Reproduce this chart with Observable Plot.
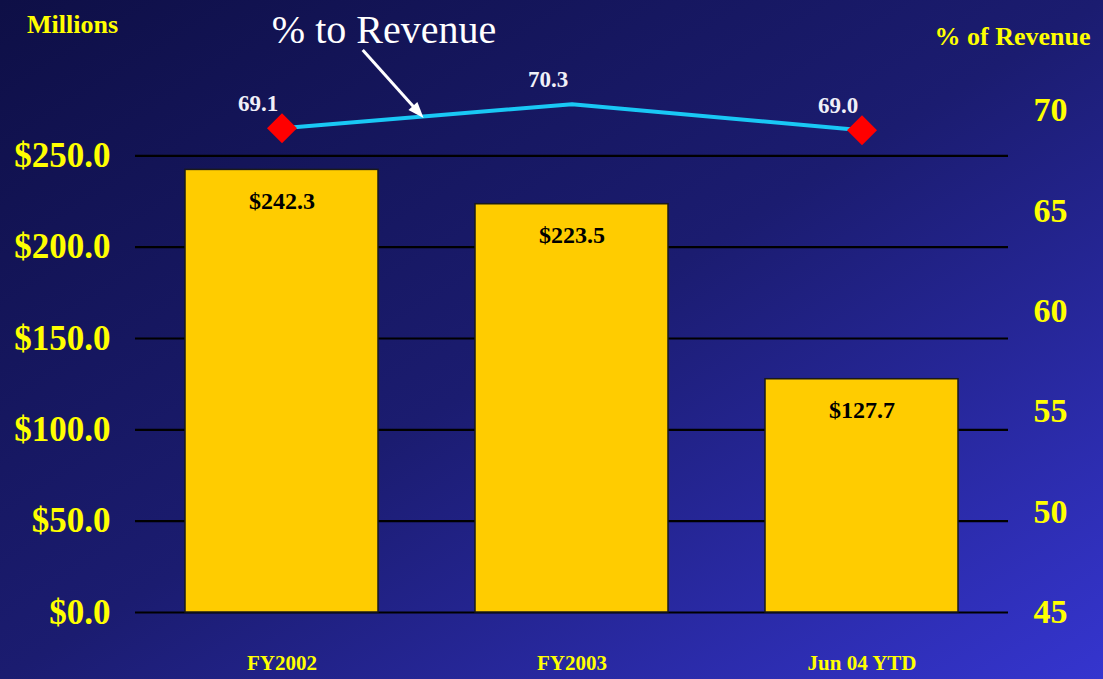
<!DOCTYPE html>
<html><head><meta charset="utf-8">
<script src="https://cdn.jsdelivr.net/npm/d3@7"></script>
<script src="https://cdn.jsdelivr.net/npm/@observablehq/plot@0.6"></script>
<style>
html,body{margin:0;padding:0;width:1103px;height:679px;overflow:hidden;
background: linear-gradient(to bottom right, #0e0f46 0%, #1b1c70 50%, #3535cf 100%);}
#chart svg{display:block;}
</style></head><body><div id="chart"></div>
<script>
const categories = ["FY2002", "FY2003", "Jun 04 YTD"];
const expenses = [242.3, 223.5, 127.7];
const pctRevenue = [69.1, 70.3, 69.0];
const pctMarker = [true, false, true];
const leftTicks = [0, 50, 100, 150, 200, 250];
const rightTicks = [45, 50, 55, 60, 65, 70];
const annotationText = "% to Revenue";
const leftTitle = "Millions";
const rightTitle = "% of Revenue";

// map the right (percent) axis onto the left axis coordinates
const PCT_BASE = 45, PCT_K = 11;
const toLeft = p => (p - PCT_BASE) * PCT_K;

const rows = categories.map((c, i) => ({
  category: c, value: expenses[i], pct: pctRevenue[i],
  marker: pctMarker[i], pctY: toLeft(pctRevenue[i])
}));

const serif = "'Liberation Serif','Times New Roman',Times,serif";
const yellow = "#ffff00";

const plot = Plot.plot({
  width: 1103, height: 679,
  marginLeft: 135, marginRight: 95, marginTop: 64, marginBottom: 67,
  style: {background: "transparent", fontFamily: serif, overflow: "visible"},
  x: {domain: categories, paddingInner: 0.336, paddingOuter: 0.17, label: null},
  y: {domain: [0, 300], label: null},
  marks: [
    Plot.gridY(leftTicks, {stroke: "#000", strokeOpacity: 1, strokeWidth: 2.2}),
    Plot.barY(rows, {x: "category", y: "value", fill: "#ffcc00", stroke: "#1a1a1a", strokeWidth: 1.5}),
    Plot.text(rows, {x: "category", y: "value", text: d => "$" + d.value.toFixed(1), dy: 31,
      fill: "#000", fontSize: 24, fontWeight: "bold"}),
    Plot.axisY(leftTicks, {anchor: "left", tickSize: 0, tickPadding: 25,
      tickFormat: d => "$" + d.toFixed(1), fill: yellow, fontSize: 35, fontWeight: "bold", label: null}),
    Plot.axisY(rightTicks.map(toLeft), {anchor: "right", tickSize: 0, tickPadding: 25,
      tickFormat: d => String(Math.round(d / PCT_K + PCT_BASE)), fill: yellow, fontSize: 34, fontWeight: "bold", label: null}),
    Plot.axisX({tickSize: 0, tickPadding: 43, fill: yellow, fontSize: 21, fontWeight: "bold", label: null}),
    Plot.line(rows, {x: "category", y: "pctY", stroke: "#19c8f5", strokeWidth: 4}),
    Plot.dot(rows.filter(d => d.marker), {x: "category", y: "pctY", symbol: "diamond2", r: 13.5, fill: "#ff0000", stroke: "none"}),
    Plot.text(rows, {x: "category", y: "pctY", text: d => d.pct.toFixed(1), dx: -24, dy: -25,
      fill: "#f0f0f8", fontSize: 23, fontWeight: "bold"}),
    Plot.text([leftTitle], {frameAnchor: "top-left", dx: -63, dy: -50, textAnchor: "middle",
      fill: yellow, fontSize: 26, fontWeight: "bold"}),
    Plot.text([rightTitle], {frameAnchor: "top-right", dx: 4, dy: -38, textAnchor: "middle",
      fill: yellow, fontSize: 26, fontWeight: "bold"}),
    Plot.text([annotationText], {x: () => categories[0], frameAnchor: "top", dx: 102, dy: -50,
      fill: "#ffffff", fontSize: 40, fontWeight: "normal"})
  ]
});

// arrow from the annotation to the line, positioned with the plot's scales
const xs = plot.scale("x"), ys = plot.scale("y");
const cx = c => xs.apply(c) + (xs.bandwidth || 0) / 2;
const x0 = cx(categories[0]), x1 = cx(categories[1]);
const lerp = (a, b, t) => a + (b - a) * t;
const tip = [lerp(x0, x1, 0.49), ys.apply(lerp(rows[0].pctY, rows[1].pctY, 0.49)) + 2];
const start = [lerp(x0, x1, 0.28), ys.apply(300) - 14];
const dxv = tip[0] - start[0], dyv = tip[1] - start[1];
const len = Math.hypot(dxv, dyv), ux = dxv / len, uy = dyv / len;
const head = 16, hw = 6;
const base = [tip[0] - ux * head, tip[1] - uy * head];
const g = d3.select(plot).append("g");
g.append("line").attr("x1", start[0]).attr("y1", start[1]).attr("x2", base[0] + ux * 2).attr("y2", base[1] + uy * 2)
  .attr("stroke", "#fff").attr("stroke-width", 3);
g.append("polygon").attr("points", [
  tip, [base[0] - uy * hw, base[1] + ux * hw], [base[0] + uy * hw, base[1] - ux * hw]
].map(p => p.join(",")).join(" ")).attr("fill", "#fff");

document.getElementById("chart").append(plot);
</script>
</body></html>
